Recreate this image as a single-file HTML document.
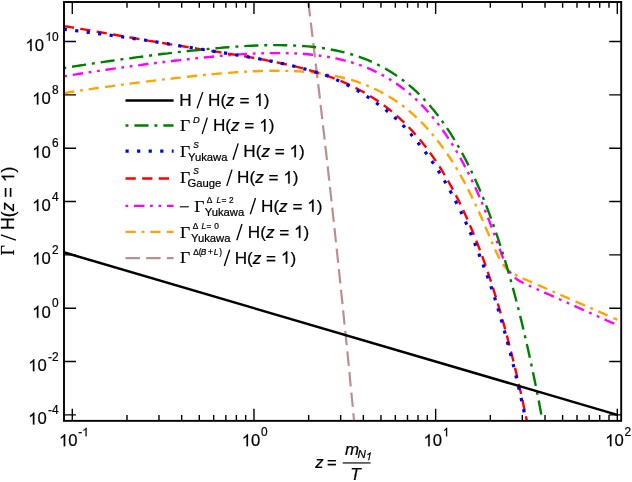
<!DOCTYPE html><html><head><meta charset="utf-8"><style>html,body{margin:0;padding:0;background:#fff}svg{display:block}text{font-family:"Liberation Sans",sans-serif;fill:#000;stroke:#000;stroke-width:0.22px}.s{font-family:"Liberation Serif",serif}.i{font-style:italic}</style></head><body>
<svg width="632" height="482" viewBox="0 0 632 482" style="will-change:transform">
<rect width="632" height="482" fill="#fff"/>
<defs><clipPath id="c"><rect x="64.00" y="2.00" width="557.20" height="418.85"/></clipPath></defs>
<g clip-path="url(#c)" fill="none">
<path d="M306.8 -10.0 L307.5 -5.0 L308.1 0.0 L308.7 5.0 L309.3 10.0 L309.9 15.0 L310.5 20.0 L311.1 25.0 L311.7 30.0 L312.3 35.0 L312.9 40.0 L313.5 45.0 L314.1 50.0 L314.7 55.0 L315.3 60.0 L315.9 65.0 L316.5 70.0 L317.1 75.0 L317.7 80.0 L318.3 85.0 L318.9 90.0 L319.5 95.0 L320.1 100.0 L320.6 105.0 L321.2 110.0 L321.8 115.0 L322.4 120.0 L322.9 125.0 L323.5 130.0 L324.1 135.0 L324.7 140.0 L325.2 145.0 L325.8 150.0 L326.4 155.0 L326.9 160.0 L327.5 165.0 L328.1 170.0 L328.6 175.0 L329.2 180.0 L329.7 185.0 L330.3 190.0 L330.8 195.0 L331.4 200.0 L331.9 205.0 L332.5 210.0 L333.0 215.0 L333.6 220.0 L334.1 225.0 L334.7 230.0 L335.2 235.0 L335.7 240.0 L336.3 245.0 L336.8 250.0 L337.3 255.0 L337.9 260.0 L338.4 265.0 L338.9 270.0 L339.5 275.0 L340.0 280.0 L340.5 285.0 L341.0 290.0 L341.5 295.0 L342.1 300.0 L342.6 305.0 L343.1 310.0 L343.6 315.0 L344.1 320.0 L344.6 325.0 L345.1 330.0 L345.7 335.0 L346.2 340.0 L346.7 345.0 L347.2 350.0 L347.7 355.0 L348.2 360.0 L348.7 365.0 L349.2 370.0 L349.7 375.0 L350.1 380.0 L350.6 385.0 L351.1 390.0 L351.6 395.0 L352.1 400.0 L352.6 405.0 L353.1 410.0 L353.5 415.0 L354.0 420.0 L354.5 425.0 L355.0 430.0 L355.5 435.0" stroke="#bc8f8f" stroke-width="2.2" stroke-dasharray="14.4 6.28" stroke-dashoffset="-12.2"/>
<path d="M60.0 93.8 L64.0 93.1 L68.0 92.5 L72.0 91.8 L76.0 91.2 L80.0 90.6 L84.0 90.0 L88.0 89.4 L92.0 88.9 L96.0 88.3 L100.0 87.7 L104.0 87.2 L108.0 86.6 L112.0 86.1 L116.0 85.5 L120.0 85.0 L124.0 84.4 L128.0 83.9 L132.0 83.4 L136.0 82.9 L140.0 82.4 L144.0 81.9 L148.0 81.4 L152.0 80.9 L156.0 80.4 L160.0 79.9 L164.0 79.4 L168.0 78.9 L172.0 78.5 L176.0 78.0 L180.0 77.6 L184.0 77.1 L188.0 76.7 L192.0 76.2 L196.0 75.8 L200.0 75.4 L204.0 75.0 L208.0 74.6 L212.0 74.2 L216.0 73.9 L220.0 73.5 L224.0 73.2 L228.0 72.9 L232.0 72.6 L236.0 72.3 L240.0 72.0 L244.0 71.8 L248.0 71.5 L252.0 71.3 L256.0 71.2 L260.0 71.0 L264.0 70.9 L268.0 70.8 L272.0 70.7 L276.0 70.7 L280.0 70.7 L284.0 70.8 L288.0 70.9 L292.0 71.0 L296.0 71.2 L300.0 71.4 L304.0 71.7 L308.0 72.0 L312.0 72.4 L316.0 72.8 L320.0 73.3 L324.0 73.9 L328.0 74.6 L332.0 75.3 L336.0 76.1 L340.0 77.0 L344.0 78.0 L348.0 79.0 L352.0 80.2 L356.0 81.4 L360.0 82.8 L364.0 84.3 L368.0 85.9 L372.0 87.6 L376.0 89.5 L380.0 91.5 L381.0 92.0 L382.0 92.6 L383.0 93.1 L384.0 93.6 L385.0 94.2 L386.0 94.8 L387.0 95.4 L388.0 95.9 L389.0 96.5 L390.0 97.2 L391.0 97.8 L392.0 98.4 L393.0 99.0 L394.0 99.7 L395.0 100.4 L396.0 101.0 L397.0 101.7 L398.0 102.4 L399.0 103.1 L400.0 103.8 L401.0 104.6 L402.0 105.3 L403.0 106.1 L404.0 106.8 L405.0 107.6 L406.0 108.4 L407.0 109.2 L408.0 110.0 L409.0 110.8 L410.0 111.7 L411.0 112.5 L412.0 113.4 L413.0 114.3 L414.0 115.2 L415.0 116.1 L416.0 117.0 L417.0 117.9 L418.0 118.9 L419.0 119.9 L420.0 120.8 L421.0 121.8 L422.0 122.8 L423.0 123.9 L424.0 124.9 L425.0 126.0 L426.0 127.0 L427.0 128.1 L428.0 129.2 L429.0 130.3 L430.0 131.5 L431.0 132.6 L432.0 133.8 L433.0 135.0 L434.0 136.2 L435.0 137.4 L436.0 138.7 L437.0 139.9 L438.0 141.2 L439.0 142.5 L440.0 143.8 L441.0 145.1 L442.0 146.5 L443.0 147.9 L444.0 149.2 L445.0 150.7 L446.0 152.1 L447.0 153.5 L448.0 155.0 L449.0 156.5 L450.0 158.0 L451.0 159.5 L452.0 161.1 L453.0 162.7 L454.0 164.3 L455.0 165.9 L456.0 167.5 L457.0 169.2 L458.0 170.9 L459.0 172.6 L460.0 174.3 L461.0 176.1 L462.0 177.9 L463.0 179.7 L464.0 181.5 L465.0 183.4 L466.0 185.3 L467.0 187.2 L468.0 189.1 L469.0 191.1 L470.0 193.1 L471.0 195.1 L472.0 197.1 L473.0 199.2 L474.0 201.3 L475.0 203.4 L476.0 205.6 L477.0 207.8 L478.0 209.8 L479.0 212.0 L480.0 214.3 L481.0 216.5 L482.0 218.8 L483.0 221.1 L484.0 223.5 L485.0 225.8 L486.0 228.2 L487.0 230.5 L488.0 232.9 L489.0 235.3 L490.0 237.7 L491.0 240.1 L492.0 242.5 L493.0 244.8 L494.0 247.1 L495.0 249.4 L496.0 251.6 L497.0 253.7 L498.0 255.8 L499.0 257.7 L500.0 259.6 L501.0 261.3 L502.0 262.9 L503.0 264.4 L504.0 265.7 L505.0 267.0 L506.0 268.1 L507.0 269.1 L508.0 270.0 L509.0 270.8 L510.0 271.6 L511.0 272.2 L512.0 272.9 L513.0 273.5 L514.0 274.1 L515.0 274.6 L516.0 275.1 L517.0 275.6 L518.0 276.1 L519.0 276.6 L520.0 277.0 L521.0 277.5 L522.0 277.9 L523.0 278.4 L524.0 278.8 L525.0 279.3 L526.0 279.7 L527.0 280.2 L528.0 280.6 L529.0 281.0 L530.0 281.5 L531.0 281.9 L532.0 282.4 L533.0 282.8 L534.0 283.2 L535.0 283.7 L536.0 284.1 L537.0 284.5 L538.0 285.0 L539.0 285.4 L540.0 285.9 L541.0 286.3 L542.0 286.7 L543.0 287.2 L544.0 287.6 L545.0 288.0 L546.0 288.5 L547.0 288.9 L548.0 289.4 L549.0 289.8 L550.0 290.2 L551.0 290.7 L552.0 291.1 L553.0 291.5 L554.0 292.0 L555.0 292.4 L556.0 292.9 L557.0 293.3 L558.0 293.7 L559.0 294.2 L560.0 294.6 L561.0 295.1 L562.0 295.5 L563.0 295.9 L564.0 296.4 L565.0 296.8 L566.0 297.2 L567.0 297.7 L568.0 298.1 L569.0 298.6 L570.0 299.0 L571.0 299.4 L572.0 299.9 L573.0 300.3 L574.0 300.7 L575.0 301.2 L576.0 301.6 L577.0 302.1 L578.0 302.5 L579.0 302.9 L580.0 303.4 L581.0 303.8 L582.0 304.2 L583.0 304.7 L584.0 305.1 L585.0 305.6 L586.0 306.0 L587.0 306.4 L588.0 306.9 L589.0 307.3 L590.0 307.7 L591.0 308.2 L592.0 308.6 L593.0 309.1 L594.0 309.5 L595.0 309.9 L596.0 310.4 L597.0 310.8 L598.0 311.3 L599.0 311.7 L600.0 312.1 L601.0 312.6 L602.0 313.0 L603.0 313.4 L604.0 313.9 L605.0 314.3 L606.0 314.8 L607.0 315.2 L608.0 315.6 L609.0 316.1 L610.0 316.5 L611.0 316.9 L612.0 317.4 L613.0 317.8 L614.0 318.3 L615.0 318.7 L616.0 319.1 L617.0 319.6 L617.3 319.7" stroke="#ffa500" stroke-width="2.4" stroke-dasharray="10.3 5.7 3 5.7 10.3 6.28" stroke-dashoffset="-4.3"/>
<path d="M60.0 77.0 L64.0 76.3 L68.0 75.7 L72.0 75.0 L76.0 74.4 L80.0 73.7 L84.0 73.1 L88.0 72.5 L92.0 71.9 L96.0 71.3 L100.0 70.7 L104.0 70.1 L108.0 69.5 L112.0 68.9 L116.0 68.4 L120.0 67.8 L124.0 67.2 L128.0 66.7 L132.0 66.1 L136.0 65.6 L140.0 65.1 L144.0 64.5 L148.0 64.0 L152.0 63.5 L156.0 63.0 L160.0 62.5 L164.0 62.0 L168.0 61.5 L172.0 61.0 L176.0 60.5 L180.0 60.1 L184.0 59.6 L188.0 59.2 L192.0 58.7 L196.0 58.3 L200.0 57.9 L204.0 57.5 L208.0 57.1 L212.0 56.7 L216.0 56.3 L220.0 55.9 L224.0 55.6 L228.0 55.3 L232.0 55.0 L236.0 54.7 L240.0 54.4 L244.0 54.1 L248.0 53.9 L252.0 53.7 L256.0 53.5 L260.0 53.4 L264.0 53.2 L268.0 53.2 L272.0 53.1 L276.0 53.1 L280.0 53.1 L284.0 53.1 L288.0 53.2 L292.0 53.3 L296.0 53.5 L300.0 53.7 L304.0 54.0 L308.0 54.3 L312.0 54.7 L316.0 55.2 L320.0 55.7 L324.0 56.2 L328.0 56.9 L332.0 57.6 L336.0 58.4 L340.0 59.3 L344.0 60.3 L348.0 61.3 L352.0 62.5 L356.0 63.8 L360.0 65.1 L364.0 66.6 L368.0 68.2 L372.0 69.9 L376.0 71.8 L380.0 73.8 L381.0 74.3 L382.0 74.9 L383.0 75.4 L384.0 76.0 L385.0 76.5 L386.0 77.1 L387.0 77.7 L388.0 78.3 L389.0 78.9 L390.0 79.5 L391.0 80.1 L392.0 80.7 L393.0 81.4 L394.0 82.0 L395.0 82.7 L396.0 83.4 L397.0 84.0 L398.0 84.7 L399.0 85.5 L400.0 86.2 L401.0 86.9 L402.0 87.7 L403.0 88.4 L404.0 89.2 L405.0 90.0 L406.0 90.8 L407.0 91.6 L408.0 92.4 L409.0 93.2 L410.0 94.1 L411.0 94.9 L412.0 95.8 L413.0 96.7 L414.0 97.6 L415.0 98.5 L416.0 99.4 L417.0 100.4 L418.0 101.3 L419.0 102.3 L420.0 103.3 L421.0 104.3 L422.0 105.3 L423.0 106.3 L424.0 107.4 L425.0 108.4 L426.0 109.5 L427.0 110.6 L428.0 111.7 L429.0 112.9 L430.0 114.0 L431.0 115.2 L432.0 116.4 L433.0 117.6 L434.0 118.8 L435.0 120.0 L436.0 121.3 L437.0 122.5 L438.0 123.8 L439.0 125.1 L440.0 126.5 L441.0 127.8 L442.0 129.2 L443.0 130.5 L444.0 132.0 L445.0 133.4 L446.0 134.8 L447.0 136.3 L448.0 137.8 L449.0 139.3 L450.0 140.8 L451.0 142.4 L452.0 143.9 L453.0 145.5 L454.0 147.2 L455.0 148.8 L456.0 150.5 L457.0 152.2 L458.0 153.9 L459.0 155.6 L460.0 157.4 L461.0 159.2 L462.0 161.0 L463.0 162.8 L464.0 164.7 L465.0 166.6 L466.0 168.5 L467.0 170.4 L468.0 172.4 L469.0 174.4 L470.0 176.4 L471.0 178.4 L472.0 180.5 L473.0 182.6 L474.0 184.8 L475.0 186.9 L476.0 189.1 L477.0 191.3 L478.0 193.6 L479.0 195.9 L480.0 198.2 L481.0 200.5 L482.0 202.9 L483.0 205.3 L484.0 207.7 L485.0 210.2 L486.0 212.7 L487.0 215.2 L488.0 217.7 L489.0 220.3 L490.0 222.9 L491.0 225.6 L492.0 228.2 L493.0 230.9 L494.0 233.6 L495.0 236.3 L496.0 239.1 L497.0 241.8 L498.0 244.5 L499.0 247.2 L500.0 249.9 L501.0 252.6 L502.0 255.2 L503.0 257.7 L504.0 260.2 L505.0 262.5 L506.0 264.8 L507.0 266.8 L508.0 268.8 L509.0 270.5 L510.0 272.1 L511.0 273.5 L512.0 274.8 L513.0 275.9 L514.0 276.9 L515.0 277.8 L516.0 278.6 L517.0 279.4 L518.0 280.0 L519.0 280.6 L520.0 281.2 L521.0 281.8 L522.0 282.3 L523.0 282.8 L524.0 283.3 L525.0 283.7 L526.0 284.2 L527.0 284.7 L528.0 285.1 L529.0 285.6 L530.0 286.0 L531.0 286.5 L532.0 286.9 L533.0 287.4 L534.0 287.8 L535.0 288.3 L536.0 288.7 L537.0 289.2 L538.0 289.6 L539.0 290.1 L540.0 290.5 L541.0 291.0 L542.0 291.4 L543.0 291.9 L544.0 292.3 L545.0 292.8 L546.0 293.2 L547.0 293.7 L548.0 294.1 L549.0 294.5 L550.0 295.0 L551.0 295.4 L552.0 295.9 L553.0 296.3 L554.0 296.8 L555.0 297.2 L556.0 297.7 L557.0 298.1 L558.0 298.6 L559.0 299.0 L560.0 299.5 L561.0 299.9 L562.0 300.4 L563.0 300.8 L564.0 301.3 L565.0 301.7 L566.0 302.2 L567.0 302.6 L568.0 303.0 L569.0 303.5 L570.0 303.9 L571.0 304.4 L572.0 304.8 L573.0 305.3 L574.0 305.7 L575.0 306.2 L576.0 306.6 L577.0 307.1 L578.0 307.5 L579.0 308.0 L580.0 308.4 L581.0 308.9 L582.0 309.3 L583.0 309.8 L584.0 310.2 L585.0 310.7 L586.0 311.1 L587.0 311.5 L588.0 312.0 L589.0 312.4 L590.0 312.9 L591.0 313.3 L592.0 313.8 L593.0 314.2 L594.0 314.7 L595.0 315.1 L596.0 315.6 L597.0 316.0 L598.0 316.5 L599.0 316.9 L600.0 317.4 L601.0 317.8 L602.0 318.3 L603.0 318.7 L604.0 319.2 L605.0 319.6 L606.0 320.0 L607.0 320.5 L608.0 320.9 L609.0 321.4 L610.0 321.8 L611.0 322.3 L612.0 322.7 L613.0 323.2 L614.0 323.6 L615.0 324.1 L616.0 324.5 L617.0 325.0 L617.3 325.1" stroke="#ff00ff" stroke-width="2.4" stroke-dasharray="10.5 5.6 2.8 5.65 2.8 5.7" stroke-dashoffset="-12.9"/>
<path d="M60.0 25.4 L64.0 26.1 L68.0 26.7 L72.0 27.4 L76.0 28.1 L80.0 28.8 L84.0 29.4 L88.0 30.1 L92.0 30.8 L96.0 31.5 L100.0 32.2 L104.0 32.9 L108.0 33.6 L112.0 34.3 L116.0 35.0 L120.0 35.7 L124.0 36.4 L128.0 37.1 L132.0 37.8 L136.0 38.5 L140.0 39.2 L144.0 39.9 L148.0 40.6 L152.0 41.2 L156.0 41.9 L160.0 42.6 L164.0 43.2 L168.0 43.9 L172.0 44.6 L176.0 45.2 L180.0 45.9 L184.0 46.5 L188.0 47.1 L192.0 47.8 L196.0 48.4 L200.0 49.1 L204.0 49.7 L208.0 50.3 L212.0 51.0 L216.0 51.6 L220.0 52.3 L224.0 52.9 L228.0 53.6 L232.0 54.2 L236.0 54.9 L240.0 55.5 L244.0 56.2 L248.0 56.9 L252.0 57.6 L256.0 58.3 L260.0 59.0 L264.0 59.8 L268.0 60.6 L272.0 61.3 L276.0 62.2 L280.0 63.0 L284.0 63.9 L288.0 64.8 L292.0 65.7 L296.0 66.7 L300.0 67.7 L304.0 68.7 L308.0 69.8 L312.0 71.0 L316.0 72.2 L320.0 73.4 L324.0 74.8 L328.0 76.1 L332.0 77.6 L336.0 79.1 L340.0 80.7 L344.0 82.4 L348.0 84.2 L352.0 86.1 L356.0 88.1 L360.0 90.2 L364.0 92.4 L368.0 94.7 L372.0 97.2 L376.0 99.8 L380.0 102.5 L381.0 103.2 L382.0 103.9 L383.0 104.7 L384.0 105.4 L385.0 106.1 L386.0 106.9 L387.0 107.7 L388.0 108.4 L389.0 109.2 L390.0 110.0 L391.0 110.8 L392.0 111.7 L393.0 112.5 L394.0 113.3 L395.0 114.2 L396.0 115.1 L397.0 115.9 L398.0 116.8 L399.0 117.7 L400.0 118.6 L401.0 119.6 L402.0 120.5 L403.0 121.5 L404.0 122.4 L405.0 123.4 L406.0 124.4 L407.0 125.4 L408.0 126.4 L409.0 127.5 L410.0 128.5 L411.0 129.6 L412.0 130.6 L413.0 131.7 L414.0 132.8 L415.0 134.0 L416.0 135.1 L417.0 136.3 L418.0 137.4 L419.0 138.6 L420.0 139.8 L421.0 141.0 L422.0 142.2 L423.0 143.5 L424.0 144.8 L425.0 146.0 L426.0 147.3 L427.0 148.6 L428.0 150.0 L429.0 151.3 L430.0 152.7 L431.0 154.1 L432.0 155.5 L433.0 156.9 L434.0 158.4 L435.0 159.8 L436.0 161.3 L437.0 162.8 L438.0 164.3 L439.0 165.9 L440.0 167.4 L441.0 169.0 L442.0 170.6 L443.0 172.3 L444.0 173.9 L445.0 175.6 L446.0 177.3 L447.0 179.0 L448.0 180.7 L449.0 182.5 L450.0 184.3 L451.0 186.1 L452.0 187.9 L453.0 189.8 L454.0 191.7 L455.0 193.6 L456.0 195.5 L457.0 197.4 L458.0 199.4 L459.0 201.4 L460.0 203.5 L461.0 205.5 L462.0 207.6 L463.0 209.7 L464.0 211.9 L465.0 214.1 L466.0 216.3 L467.0 218.5 L468.0 220.8 L469.0 223.0 L470.0 225.4 L471.0 227.7 L472.0 230.1 L473.0 232.5 L474.0 234.9 L475.0 237.4 L476.0 239.9 L477.0 242.5 L478.0 245.0 L479.0 247.6 L480.0 250.3 L481.0 253.0 L482.0 255.7 L483.0 258.4 L484.0 261.2 L485.0 264.0 L486.0 266.9 L487.0 269.8 L488.0 272.7 L489.0 275.6 L490.0 278.6 L491.0 281.7 L492.0 284.8 L493.0 287.9 L494.0 291.1 L495.0 294.3 L496.0 297.5 L497.0 300.8 L498.0 304.1 L499.0 307.5 L500.0 310.9 L501.0 314.4 L502.0 317.9 L503.0 321.4 L504.0 325.0 L505.0 328.6 L506.0 332.3 L507.0 336.1 L508.0 339.8 L509.0 343.7 L510.0 347.6 L511.0 351.5 L512.0 355.5 L513.0 359.5 L514.0 363.6 L515.0 367.7 L516.0 371.9 L517.0 376.1 L518.0 380.4 L519.0 384.8 L520.0 389.2 L521.0 393.6 L522.0 398.1 L523.0 402.7 L524.0 407.4 L525.0 412.0 L526.0 416.8 L527.0 421.6 L528.0 426.5 L529.0 431.4 L530.0 436.4 L531.0 441.5 L532.0 446.6 L533.0 451.8 L534.0 457.0 L535.0 462.4 L536.0 467.7" stroke="#ff0000" stroke-width="2.4" stroke-dasharray="10.3 6.315" stroke-dashoffset="-3.9"/>
<path d="M60.0 28.9 L64.0 29.3 L68.0 29.8 L72.0 30.2 L76.0 30.7 L80.0 31.2 L84.0 31.8 L88.0 32.3 L92.0 32.8 L96.0 33.3 L100.0 33.8 L104.0 34.4 L108.0 34.9 L112.0 35.5 L116.0 36.0 L120.0 36.6 L124.0 37.2 L128.0 37.7 L132.0 38.3 L136.0 38.9 L140.0 39.5 L144.0 40.0 L148.0 40.6 L152.0 41.2 L156.0 41.9 L160.0 42.6 L164.0 43.2 L168.0 43.9 L172.0 44.6 L176.0 45.2 L180.0 45.9 L184.0 46.5 L188.0 47.1 L192.0 47.8 L196.0 48.4 L200.0 49.1 L204.0 49.7 L208.0 50.3 L212.0 51.0 L216.0 51.6 L220.0 52.3 L224.0 52.9 L228.0 53.6 L232.0 54.2 L236.0 54.9 L240.0 55.5 L244.0 56.2 L248.0 56.9 L252.0 57.6 L256.0 58.3 L260.0 59.0 L264.0 59.8 L268.0 60.6 L272.0 61.3 L276.0 62.2 L280.0 63.0 L284.0 63.9 L288.0 64.8 L292.0 65.7 L296.0 66.7 L300.0 67.7 L304.0 68.7 L308.0 69.8 L312.0 71.0 L316.0 72.2 L320.0 73.4 L324.0 74.8 L328.0 76.1 L332.0 77.7 L336.0 79.5 L340.0 81.4 L344.0 83.3 L348.0 85.4 L352.0 87.5 L356.0 89.7 L360.0 92.1 L364.0 94.6 L368.0 97.1 L372.0 99.9 L376.0 102.7 L380.0 105.6 L381.0 106.3 L382.0 107.1 L383.0 107.8 L384.0 108.6 L385.0 109.3 L386.0 110.1 L387.0 110.9 L388.0 111.7 L389.0 112.5 L390.0 113.4 L391.0 114.2 L392.0 115.1 L393.0 115.9 L394.0 116.8 L395.0 117.7 L396.0 118.6 L397.0 119.5 L398.0 120.4 L399.0 121.3 L400.0 122.2 L401.0 123.3 L402.0 124.3 L403.0 125.4 L404.0 126.4 L405.0 127.5 L406.0 128.6 L407.0 129.7 L408.0 130.8 L409.0 131.9 L410.0 133.1 L411.0 134.2 L412.0 135.4 L413.0 136.6 L414.0 137.8 L415.0 139.0 L416.0 140.2 L417.0 141.5 L418.0 142.7 L419.0 144.0 L420.0 145.3 L421.0 146.5 L422.0 147.8 L423.0 149.1 L424.0 150.4 L425.0 151.7 L426.0 153.0 L427.0 154.3 L428.0 155.7 L429.0 157.1 L430.0 158.5 L431.0 159.9 L432.0 161.3 L433.0 162.8 L434.0 164.3 L435.0 165.7 L436.0 167.3 L437.0 168.8 L438.0 170.3 L439.0 171.9 L440.0 173.5 L441.0 175.1 L442.0 176.7 L443.0 178.4 L444.0 180.1 L445.0 181.8 L446.0 183.5 L447.0 185.2 L448.0 187.0 L449.0 188.8 L450.0 190.6 L451.0 192.4 L452.0 194.3 L453.0 196.2 L454.0 198.1 L455.0 200.0 L456.0 202.0 L457.0 203.9 L458.0 205.9 L459.0 207.9 L460.0 210.0 L461.0 212.0 L462.0 214.1 L463.0 216.2 L464.0 218.4 L465.0 220.6 L466.0 222.8 L467.0 225.0 L468.0 227.3 L469.0 229.5 L470.0 231.9 L471.0 234.2 L472.0 236.6 L473.0 239.0 L474.0 241.4 L475.0 243.9 L476.0 246.4 L477.0 249.0 L478.0 251.5 L479.0 254.1 L480.0 256.8 L481.0 259.3 L482.0 261.9 L483.0 264.5 L484.0 267.1 L485.0 269.8 L486.0 272.5 L487.0 275.2 L488.0 278.0 L489.0 280.8 L490.0 283.7 L491.0 286.6 L492.0 289.5 L493.0 292.5 L494.0 295.6 L495.0 298.8 L496.0 302.1 L497.0 305.3 L498.0 308.6 L499.0 312.0 L500.0 315.4 L501.0 318.8 L502.0 322.3 L503.0 325.8 L504.0 329.4 L505.0 333.0 L506.0 336.7 L507.0 340.4 L508.0 344.2 L509.0 348.0 L510.0 351.9 L511.0 355.8 L512.0 359.7 L513.0 363.7 L514.0 367.8 L515.0 371.9 L516.0 376.1 L517.0 380.3 L518.0 384.6 L519.0 388.9 L520.0 393.3 L521.0 397.7 L522.0 402.2 L523.0 406.7 L524.0 411.4 L525.0 416.0 L526.0 420.8 L527.0 425.6 L528.0 430.5 L529.0 435.4 L530.0 440.4 L531.0 445.5 L532.0 450.6 L533.0 455.8 L534.0 461.0 L535.0 466.4" stroke="#0000ff" stroke-width="3.2" stroke-dasharray="3.2 8.372" stroke-dashoffset="-3.7"/>
<path d="M60.0 68.6 L64.0 68.0 L68.0 67.3 L72.0 66.7 L76.0 66.1 L80.0 65.5 L84.0 64.9 L88.0 64.2 L92.0 63.6 L96.0 63.1 L100.0 62.5 L104.0 61.9 L108.0 61.3 L112.0 60.7 L116.0 60.2 L120.0 59.6 L124.0 59.1 L128.0 58.5 L132.0 58.0 L136.0 57.4 L140.0 56.9 L144.0 56.4 L148.0 55.9 L152.0 55.3 L156.0 54.8 L160.0 54.3 L164.0 53.8 L168.0 53.4 L172.0 52.9 L176.0 52.4 L180.0 51.9 L184.0 51.5 L188.0 51.0 L192.0 50.6 L196.0 50.2 L200.0 49.8 L204.0 49.4 L208.0 49.0 L212.0 48.6 L216.0 48.2 L220.0 47.9 L224.0 47.5 L228.0 47.2 L232.0 46.9 L236.0 46.6 L240.0 46.4 L244.0 46.1 L248.0 45.9 L252.0 45.7 L256.0 45.5 L260.0 45.4 L264.0 45.3 L268.0 45.2 L272.0 45.1 L276.0 45.1 L280.0 45.1 L284.0 45.2 L288.0 45.3 L292.0 45.4 L296.0 45.6 L300.0 45.8 L304.0 46.1 L308.0 46.4 L312.0 46.8 L316.0 47.2 L320.0 47.8 L324.0 48.3 L328.0 49.0 L332.0 49.7 L336.0 50.5 L340.0 51.4 L344.0 52.3 L348.0 53.4 L352.0 54.5 L356.0 55.8 L360.0 57.1 L364.0 58.6 L368.0 60.2 L372.0 61.9 L376.0 63.8 L380.0 65.8 L381.0 66.3 L382.0 66.8 L383.0 67.4 L384.0 67.9 L385.0 68.5 L386.0 69.0 L387.0 69.6 L388.0 70.2 L389.0 70.8 L390.0 71.4 L391.0 72.0 L392.0 72.6 L393.0 73.3 L394.0 73.9 L395.0 74.6 L396.0 75.3 L397.0 75.9 L398.0 76.6 L399.0 77.3 L400.0 78.1 L401.0 78.8 L402.0 79.5 L403.0 80.3 L404.0 81.0 L405.0 81.8 L406.0 82.6 L407.0 83.4 L408.0 84.2 L409.0 85.1 L410.0 85.9 L411.0 86.8 L412.0 87.6 L413.0 88.5 L414.0 89.4 L415.0 90.3 L416.0 91.2 L417.0 92.2 L418.0 93.1 L419.0 94.1 L420.0 95.1 L421.0 96.1 L422.0 97.1 L423.0 98.1 L424.0 99.2 L425.0 100.3 L426.0 101.3 L427.0 102.4 L428.0 103.5 L429.0 104.7 L430.0 105.8 L431.0 107.0 L432.0 108.2 L433.0 109.3 L434.0 110.6 L435.0 111.8 L436.0 113.1 L437.0 114.3 L438.0 115.6 L439.0 116.9 L440.0 118.2 L441.0 119.6 L442.0 121.0 L443.0 122.4 L444.0 123.8 L445.0 125.2 L446.0 126.6 L447.0 128.1 L448.0 129.6 L449.0 131.1 L450.0 132.6 L451.0 134.2 L452.0 135.8 L453.0 137.4 L454.0 139.0 L455.0 140.7 L456.0 142.3 L457.0 144.0 L458.0 145.8 L459.0 147.5 L460.0 149.3 L461.0 151.1 L462.0 152.9 L463.0 154.7 L464.0 156.6 L465.0 158.5 L466.0 160.4 L467.0 162.4 L468.0 164.4 L469.0 166.4 L470.0 168.4 L471.0 170.5 L472.0 172.6 L473.0 174.7 L474.0 176.8 L475.0 179.0 L476.0 181.2 L477.0 183.5 L478.0 185.8 L479.0 188.1 L480.0 190.4 L481.0 192.8 L482.0 195.2 L483.0 197.6 L484.0 200.1 L485.0 202.6 L486.0 205.1 L487.0 207.7 L488.0 210.3 L489.0 212.9 L490.0 215.6 L491.0 218.3 L492.0 221.1 L493.0 223.9 L494.0 226.7 L495.0 229.6 L496.0 232.5 L497.0 235.4 L498.0 238.4 L499.0 241.5 L500.0 244.5 L501.0 247.6 L502.0 250.8 L503.0 254.0 L504.0 257.2 L505.0 260.5 L506.0 263.8 L507.0 267.2 L508.0 270.6 L509.0 274.1 L510.0 277.6 L511.0 281.1 L512.0 284.7 L513.0 288.4 L514.0 292.1 L515.0 295.8 L516.0 299.6 L517.0 303.4 L518.0 307.3 L519.0 311.3 L520.0 315.3 L521.0 319.4 L522.0 323.5 L523.0 327.6 L524.0 331.9 L525.0 336.1 L526.0 340.5 L527.0 344.8 L528.0 349.3 L529.0 353.8 L530.0 358.4 L531.0 363.0 L532.0 367.7 L533.0 372.4 L534.0 377.2 L535.0 382.1 L536.0 387.1 L537.0 392.1 L538.0 397.1 L539.0 402.3 L540.0 407.5 L541.0 412.7 L542.0 418.1 L543.0 423.5 L544.0 429.0 L545.0 434.5 L546.0 440.2 L547.0 445.9 L548.0 451.6 L549.0 457.5 L550.0 463.4 L551.0 469.4" stroke="#008000" stroke-width="2.4" stroke-dasharray="14.1 5.9 3 5.92" stroke-dashoffset="-12.2"/>
<path d="M60.0 251.2 L617.3 414.9" stroke="#000000" stroke-width="2.5"/>
</g>
<path d="M72.30 420.85V408.85M72.30 2.00V14.00M253.97 420.85V408.85M253.97 2.00V14.00M435.64 420.85V408.85M435.64 2.00V14.00M617.31 420.85V408.85M617.31 2.00V14.00M126.99 420.85V415.05M126.99 2.00V7.80M158.98 420.85V415.05M158.98 2.00V7.80M181.68 420.85V415.05M181.68 2.00V7.80M199.28 420.85V415.05M199.28 2.00V7.80M213.67 420.85V415.05M213.67 2.00V7.80M225.83 420.85V415.05M225.83 2.00V7.80M236.36 420.85V415.05M236.36 2.00V7.80M245.66 420.85V415.05M245.66 2.00V7.80M308.66 420.85V415.05M308.66 2.00V7.80M340.65 420.85V415.05M340.65 2.00V7.80M363.35 420.85V415.05M363.35 2.00V7.80M380.95 420.85V415.05M380.95 2.00V7.80M395.34 420.85V415.05M395.34 2.00V7.80M407.50 420.85V415.05M407.50 2.00V7.80M418.03 420.85V415.05M418.03 2.00V7.80M427.33 420.85V415.05M427.33 2.00V7.80M490.33 420.85V415.05M490.33 2.00V7.80M522.32 420.85V415.05M522.32 2.00V7.80M545.02 420.85V415.05M545.02 2.00V7.80M562.62 420.85V415.05M562.62 2.00V7.80M577.01 420.85V415.05M577.01 2.00V7.80M589.17 420.85V415.05M589.17 2.00V7.80M599.70 420.85V415.05M599.70 2.00V7.80M609.00 420.85V415.05M609.00 2.00V7.80M64.00 414.88H76.00M621.20 414.88H609.20M64.00 361.54H76.00M621.20 361.54H609.20M64.00 308.20H76.00M621.20 308.20H609.20M64.00 254.86H76.00M621.20 254.86H609.20M64.00 201.52H76.00M621.20 201.52H609.20M64.00 148.18H76.00M621.20 148.18H609.20M64.00 94.84H76.00M621.20 94.84H609.20M64.00 41.50H76.00M621.20 41.50H609.20" stroke="#000" stroke-width="1.4" fill="none"/>
<rect x="64.00" y="2.00" width="557.20" height="418.85" fill="none" stroke="#000" stroke-width="1.9"/>
<text x="58.6" y="414.08" font-size="11.90" text-anchor="end">-4</text>
<path d="M763 0H583V1147Q518 1085 412.5 1023T223 930V1104Q374 1175 487 1276T647 1472H763Z" transform="translate(28.16,424.48) scale(0.00814,-0.00814)" fill="#000" stroke="#000" stroke-width="27.0"/>
<text x="37.43" y="424.48" font-size="16.67">0</text>
<text x="58.6" y="360.74" font-size="11.90" text-anchor="end">-2</text>
<path d="M763 0H583V1147Q518 1085 412.5 1023T223 930V1104Q374 1175 487 1276T647 1472H763Z" transform="translate(28.16,371.14) scale(0.00814,-0.00814)" fill="#000" stroke="#000" stroke-width="27.0"/>
<text x="37.43" y="371.14" font-size="16.67">0</text>
<text x="58.6" y="307.40" font-size="11.90" text-anchor="end">0</text>
<path d="M763 0H583V1147Q518 1085 412.5 1023T223 930V1104Q374 1175 487 1276T647 1472H763Z" transform="translate(32.16,317.80) scale(0.00814,-0.00814)" fill="#000" stroke="#000" stroke-width="27.0"/>
<text x="41.43" y="317.80" font-size="16.67">0</text>
<text x="58.6" y="254.06" font-size="11.90" text-anchor="end">2</text>
<path d="M763 0H583V1147Q518 1085 412.5 1023T223 930V1104Q374 1175 487 1276T647 1472H763Z" transform="translate(32.16,264.46) scale(0.00814,-0.00814)" fill="#000" stroke="#000" stroke-width="27.0"/>
<text x="41.43" y="264.46" font-size="16.67">0</text>
<text x="58.6" y="200.72" font-size="11.90" text-anchor="end">4</text>
<path d="M763 0H583V1147Q518 1085 412.5 1023T223 930V1104Q374 1175 487 1276T647 1472H763Z" transform="translate(32.16,211.12) scale(0.00814,-0.00814)" fill="#000" stroke="#000" stroke-width="27.0"/>
<text x="41.43" y="211.12" font-size="16.67">0</text>
<text x="58.6" y="147.38" font-size="11.90" text-anchor="end">6</text>
<path d="M763 0H583V1147Q518 1085 412.5 1023T223 930V1104Q374 1175 487 1276T647 1472H763Z" transform="translate(32.16,157.78) scale(0.00814,-0.00814)" fill="#000" stroke="#000" stroke-width="27.0"/>
<text x="41.43" y="157.78" font-size="16.67">0</text>
<text x="58.6" y="94.04" font-size="11.90" text-anchor="end">8</text>
<path d="M763 0H583V1147Q518 1085 412.5 1023T223 930V1104Q374 1175 487 1276T647 1472H763Z" transform="translate(32.16,104.44) scale(0.00814,-0.00814)" fill="#000" stroke="#000" stroke-width="27.0"/>
<text x="41.43" y="104.44" font-size="16.67">0</text>
<path d="M763 0H583V1147Q518 1085 412.5 1023T223 930V1104Q374 1175 487 1276T647 1472H763Z" transform="translate(45.37,40.70) scale(0.00581,-0.00581)" fill="#000" stroke="#000" stroke-width="37.9"/>
<text x="58.6" y="40.70" font-size="11.90" text-anchor="end">0</text>
<path d="M763 0H583V1147Q518 1085 412.5 1023T223 930V1104Q374 1175 487 1276T647 1472H763Z" transform="translate(25.46,51.10) scale(0.00814,-0.00814)" fill="#000" stroke="#000" stroke-width="27.0"/>
<text x="34.73" y="51.10" font-size="16.67">0</text>
<path d="M763 0H583V1147Q518 1085 412.5 1023T223 930V1104Q374 1175 487 1276T647 1472H763Z" transform="translate(59.00,446.20) scale(0.00814,-0.00814)" fill="#000" stroke="#000" stroke-width="27.0"/>
<text x="68.27" y="446.2" font-size="16.67">0</text>
<text x="78.20" y="436.3" font-size="11.90">-</text>
<path d="M763 0H583V1147Q518 1085 412.5 1023T223 930V1104Q374 1175 487 1276T647 1472H763Z" transform="translate(82.16,436.30) scale(0.00581,-0.00581)" fill="#000" stroke="#000" stroke-width="37.9"/>
<path d="M763 0H583V1147Q518 1085 412.5 1023T223 930V1104Q374 1175 487 1276T647 1472H763Z" transform="translate(241.80,446.20) scale(0.00814,-0.00814)" fill="#000" stroke="#000" stroke-width="27.0"/>
<text x="251.07" y="446.2" font-size="16.67">0</text>
<text x="261.00" y="436.3" font-size="11.90">0</text>
<path d="M763 0H583V1147Q518 1085 412.5 1023T223 930V1104Q374 1175 487 1276T647 1472H763Z" transform="translate(423.50,446.20) scale(0.00814,-0.00814)" fill="#000" stroke="#000" stroke-width="27.0"/>
<text x="432.77" y="446.2" font-size="16.67">0</text>
<path d="M763 0H583V1147Q518 1085 412.5 1023T223 930V1104Q374 1175 487 1276T647 1472H763Z" transform="translate(442.70,436.30) scale(0.00581,-0.00581)" fill="#000" stroke="#000" stroke-width="37.9"/>
<path d="M763 0H583V1147Q518 1085 412.5 1023T223 930V1104Q374 1175 487 1276T647 1472H763Z" transform="translate(605.20,446.20) scale(0.00814,-0.00814)" fill="#000" stroke="#000" stroke-width="27.0"/>
<text x="614.47" y="446.2" font-size="16.67">0</text>
<text x="624.40" y="436.3" font-size="11.90">2</text>
<text transform="translate(14.4,255.6) rotate(-90)" font-size="17.8" class="s">Γ</text>
<path d="M15.9 240.1L0.9 234.8" stroke="#000" stroke-width="1.35" fill="none"/>
<text transform="translate(14.2,230.0) rotate(-90)" font-size="17.7">H(<tspan class="i">z</tspan> = <tspan dx="9.84">)</tspan></text>
<path d="M763 0H583V1147Q518 1085 412.5 1023T223 930V1104Q374 1175 487 1276T647 1472H763Z" transform="translate(14.2,230.0) rotate(-90) translate(47.70,0.00) scale(0.00864,-0.00864)" fill="#000" stroke="#000" stroke-width="25.5"/>
<text x="315.2" y="467.5" font-size="16.67" class="i">z</text>
<text x="327.1" y="467.5" font-size="16.67">=</text>
<path d="M342.7 462.95H370.6" stroke="#000" stroke-width="1.15"/>
<text transform="translate(345.1,454.8) scale(1.08,1)" font-size="15.6" class="i">m</text>
<text x="357.6" y="457.6" font-size="11.7" class="i">N</text>
<path d="M367.4 454.7L370.3 453.0L368.6 460.3" stroke="#000" stroke-width="1.1" fill="none"/>
<text transform="translate(350.2,479.6) scale(1.09,1)" font-size="15.8" class="i">T</text>
<path d="M125.5 100.40H173.6" stroke="#000000" stroke-width="2.5" fill="none"/>
<path d="M125.5 125.50H173.6" stroke="#008000" stroke-width="2.4" fill="none" stroke-dasharray="14.1 5.9 3 5.92" stroke-dashoffset="20.0"/>
<path d="M125.5 151.20H173.6" stroke="#0000ff" stroke-width="3.2" fill="none" stroke-dasharray="3.2 8.372" stroke-dashoffset="0.0"/>
<path d="M125.5 178.50H173.6" stroke="#ff0000" stroke-width="2.4" fill="none" stroke-dasharray="10.3 6.315" stroke-dashoffset="0.0"/>
<path d="M125.5 205.90H173.6" stroke="#ff00ff" stroke-width="2.4" fill="none" stroke-dasharray="10.5 5.6 2.8 5.65 2.8 5.7" stroke-dashoffset="24.6"/>
<path d="M125.5 231.90H173.6" stroke="#ffa500" stroke-width="2.4" fill="none" stroke-dasharray="10.3 5.7 3 5.7 10.3 6.28" stroke-dashoffset="0.0"/>
<path d="M125.5 258.20H173.6" stroke="#bc8f8f" stroke-width="2.2" fill="none" stroke-dasharray="14.4 6.28" stroke-dashoffset="0.0"/>
<text x="179.3" y="105.90" font-size="17.15">H</text>
<path d="M197.10 108.40L202.80 92.10" stroke="#000" stroke-width="1.35" fill="none"/>
<text x="208.00" y="105.90" font-size="17.15">H(<tspan class="i">z</tspan> = <tspan dx="9.54">)</tspan></text>
<path d="M763 0H583V1147Q518 1085 412.5 1023T223 930V1104Q374 1175 487 1276T647 1472H763Z" transform="translate(254.22,105.90) scale(0.00837,-0.00837)" fill="#000" stroke="#000" stroke-width="26.3"/>
<text x="180.10" y="131.30" font-size="17.6" class="s">Γ</text>
<text x="192.9" y="123.0" font-size="9.3" class="i">D</text>
<path d="M202.20 133.90L207.30 117.60" stroke="#000" stroke-width="1.35" fill="none"/>
<text x="212.90" y="131.40" font-size="17.15">H(<tspan class="i">z</tspan> = <tspan dx="9.54">)</tspan></text>
<path d="M763 0H583V1147Q518 1085 412.5 1023T223 930V1104Q374 1175 487 1276T647 1472H763Z" transform="translate(259.12,131.40) scale(0.00837,-0.00837)" fill="#000" stroke="#000" stroke-width="26.3"/>
<text x="180.10" y="157.10" font-size="17.6" class="s">Γ</text>
<text x="193.2" y="148.0" font-size="8.30" class="i">S</text>
<text x="188.1" y="161.1" font-size="11.25">Yukawa</text>
<path d="M233.00 159.70L238.20 143.40" stroke="#000" stroke-width="1.35" fill="none"/>
<text x="243.30" y="157.20" font-size="17.15">H(<tspan class="i">z</tspan> = <tspan dx="9.54">)</tspan></text>
<path d="M763 0H583V1147Q518 1085 412.5 1023T223 930V1104Q374 1175 487 1276T647 1472H763Z" transform="translate(289.52,157.20) scale(0.00837,-0.00837)" fill="#000" stroke="#000" stroke-width="26.3"/>
<text x="180.10" y="183.30" font-size="17.6" class="s">Γ</text>
<text x="193.2" y="174.2" font-size="8.30" class="i">S</text>
<text x="187.4" y="187.3" font-size="11.25">Gauge</text>
<path d="M226.80 185.90L232.00 169.60" stroke="#000" stroke-width="1.35" fill="none"/>
<text x="237.10" y="183.40" font-size="17.15">H(<tspan class="i">z</tspan> = <tspan dx="9.54">)</tspan></text>
<path d="M763 0H583V1147Q518 1085 412.5 1023T223 930V1104Q374 1175 487 1276T647 1472H763Z" transform="translate(283.32,183.40) scale(0.00837,-0.00837)" fill="#000" stroke="#000" stroke-width="26.3"/>
<path d="M179.8 206.8H188.8" stroke="#000" stroke-width="1.1"/>
<text x="194.20" y="211.70" font-size="17.6" class="s">Γ</text>
<text y="202.6" font-size="8.30"><tspan x="206.8">Δ</tspan><tspan x="216.6" class="i">L</tspan><tspan x="221.6">=</tspan><tspan x="228.9">2</tspan></text>
<text x="204.8" y="215.5" font-size="11.25">Yukawa</text>
<path d="M250.30 214.30L255.50 198.00" stroke="#000" stroke-width="1.35" fill="none"/>
<text x="261.00" y="211.80" font-size="17.15">H(<tspan class="i">z</tspan> = <tspan dx="9.54">)</tspan></text>
<path d="M763 0H583V1147Q518 1085 412.5 1023T223 930V1104Q374 1175 487 1276T647 1472H763Z" transform="translate(307.22,211.80) scale(0.00837,-0.00837)" fill="#000" stroke="#000" stroke-width="26.3"/>
<text x="180.00" y="237.70" font-size="17.6" class="s">Γ</text>
<text y="228.6" font-size="8.30"><tspan x="192.8">Δ</tspan><tspan x="201.4" class="i">L</tspan><tspan x="206.6">=</tspan><tspan x="214.3">0</tspan></text>
<text x="191.0" y="241.7" font-size="11.25">Yukawa</text>
<path d="M236.80 240.30L242.00 224.00" stroke="#000" stroke-width="1.35" fill="none"/>
<text x="247.80" y="237.80" font-size="17.15">H(<tspan class="i">z</tspan> = <tspan dx="9.54">)</tspan></text>
<path d="M763 0H583V1147Q518 1085 412.5 1023T223 930V1104Q374 1175 487 1276T647 1472H763Z" transform="translate(294.02,237.80) scale(0.00837,-0.00837)" fill="#000" stroke="#000" stroke-width="26.3"/>
<text x="180.00" y="263.40" font-size="17.6" class="s">Γ</text>
<text y="255.3" font-size="8.30"><tspan x="193.2">Δ(</tspan><tspan x="200.7" class="i">B</tspan><tspan x="207.9">+</tspan><tspan x="213.8" class="i">L</tspan><tspan x="219.3">)</tspan></text>
<path d="M224.30 266.00L229.70 249.70" stroke="#000" stroke-width="1.35" fill="none"/>
<text x="234.70" y="263.50" font-size="17.15">H(<tspan class="i">z</tspan> = <tspan dx="9.54">)</tspan></text>
<path d="M763 0H583V1147Q518 1085 412.5 1023T223 930V1104Q374 1175 487 1276T647 1472H763Z" transform="translate(280.92,263.50) scale(0.00837,-0.00837)" fill="#000" stroke="#000" stroke-width="26.3"/>
</svg></body></html>
